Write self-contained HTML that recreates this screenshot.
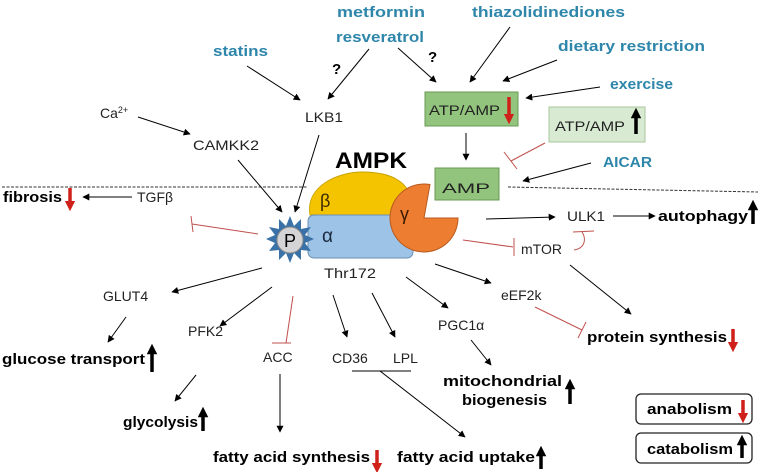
<!DOCTYPE html>
<html><head><meta charset="utf-8"><style>
html,body{margin:0;padding:0;background:#fff}
svg{display:block}
text{font-family:"Liberation Sans","DejaVu Sans",sans-serif}
.t{font-size:14px;fill:#222}
.b{font-size:15px;font-weight:bold;fill:#000}
.bl{font-size:14.5px;font-weight:bold;fill:#2e86ab}
</style></head><body>
<svg width="762" height="472" viewBox="0 0 762 472" xmlns="http://www.w3.org/2000/svg">
<defs>
<marker id="a" viewBox="0 0 10 10" refX="9" refY="5" markerWidth="7" markerHeight="7" orient="auto"><path d="M0,0L10,5L0,10z" fill="#000"/></marker>
<marker id="up" viewBox="0 0 10 10" refX="5" refY="5" markerWidth="3" markerHeight="3" orient="auto"><path d="M0,0L10,5L0,10z" fill="#000"/></marker>
<marker id="upr" viewBox="0 0 10 10" refX="5" refY="5" markerWidth="3" markerHeight="3" orient="auto"><path d="M0,0L10,5L0,10z" fill="#d0201a"/></marker>
</defs>
<line x1="2" y1="187" x2="308" y2="187" stroke="#333" stroke-dasharray="3,1.5"/>
<line x1="508" y1="187" x2="758" y2="192" stroke="#333" stroke-dasharray="3,1.5"/>

<text class="bl" x="213" y="56" textLength="55" lengthAdjust="spacingAndGlyphs">statins</text>
<text class="bl" x="337" y="17" textLength="88" lengthAdjust="spacingAndGlyphs">metformin</text>
<text class="bl" x="336" y="42" textLength="88" lengthAdjust="spacingAndGlyphs">resveratrol</text>
<text class="b" x="332" y="74" font-size="17">?</text>
<text class="b" x="428" y="62" font-size="17">?</text>
<text class="bl" x="472" y="17" textLength="153" lengthAdjust="spacingAndGlyphs">thiazolidinediones</text>
<text class="bl" x="558" y="51" textLength="147" lengthAdjust="spacingAndGlyphs">dietary restriction</text>
<text class="bl" x="610" y="89" textLength="63" lengthAdjust="spacingAndGlyphs">exercise</text>
<text class="bl" x="603" y="167" textLength="49" lengthAdjust="spacingAndGlyphs">AICAR</text>

<rect x="425" y="92" width="93" height="34" fill="#93c47d" stroke="#6a9a55"/>
<text class="t" x="429" y="115" textLength="71" lengthAdjust="spacingAndGlyphs">ATP/AMP</text>
<line x1="509" y1="97" x2="509" y2="119" stroke="#d0201a" stroke-width="3.5" marker-end="url(#upr)"/>
<rect x="549" y="107" width="96" height="35" fill="#d9ead3" stroke="#a8c79d"/>
<text class="t" x="555" y="131" textLength="70" lengthAdjust="spacingAndGlyphs">ATP/AMP</text>
<line x1="636" y1="134" x2="636" y2="113" stroke="#000" stroke-width="3.5" marker-end="url(#up)"/>
<rect x="435" y="168" width="64" height="32" fill="#93c47d" stroke="#6a9a55"/>
<text class="t" x="442" y="193" font-size="21" textLength="48" lengthAdjust="spacingAndGlyphs">AMP</text>

<line x1="247" y1="66" x2="300" y2="100" stroke="#000" marker-end="url(#a)"/>
<line x1="369" y1="49" x2="328" y2="99" stroke="#000" marker-end="url(#a)"/>
<line x1="398" y1="48" x2="436" y2="82" stroke="#000" marker-end="url(#a)"/>
<line x1="510" y1="27" x2="470" y2="82" stroke="#000" marker-end="url(#a)"/>
<line x1="557" y1="60" x2="503" y2="81" stroke="#000" marker-end="url(#a)"/>
<line x1="600" y1="87" x2="526" y2="98" stroke="#000" marker-end="url(#a)"/>
<line x1="466" y1="133" x2="466" y2="160" stroke="#000" marker-end="url(#a)"/>
<line x1="591" y1="163" x2="523" y2="181" stroke="#000" marker-end="url(#a)"/>
<line x1="545" y1="143" x2="511" y2="161" stroke="#c0504d"/>
<line x1="504" y1="152" x2="517" y2="169" stroke="#c0504d"/>

<text class="t" x="100" y="118">Ca<tspan font-size="9" dy="-5">2+</tspan></text>
<line x1="138" y1="117" x2="190" y2="134" stroke="#000" marker-end="url(#a)"/>
<text class="t" x="193" y="150" textLength="66" lengthAdjust="spacingAndGlyphs">CAMKK2</text>
<text class="t" x="305" y="122" textLength="38" lengthAdjust="spacingAndGlyphs">LKB1</text>
<line x1="238" y1="160" x2="282" y2="212" stroke="#000" marker-end="url(#a)"/>
<line x1="319" y1="135" x2="295" y2="212" stroke="#000" marker-end="url(#a)"/>

<text x="335" y="168" font-size="22" font-weight="bold" fill="#000" textLength="72" lengthAdjust="spacingAndGlyphs">AMPK</text>
<path d="M310,215 C305,185 340,172 362,172 C395,172 410,185 410,200 L410,215z" fill="#f5c400" stroke="#c9a300"/>
<text x="320" y="207" font-size="18" fill="#3a2a00">β</text>
<rect x="308" y="215" width="105" height="43" rx="6" fill="#9dc3e6" stroke="#6a8fb3"/>
<text x="322" y="242" font-size="19" fill="#1a2a40">α</text>
<path d="M424,218 L458,218 A34,34 0 1 1 430,184.5 Z" fill="#ed7d31" stroke="#b85a1e"/>
<text x="400" y="220" font-size="18" fill="#3a1a00">γ</text>

<polygon fill="#3a72a8" points="290,216 294,226 301,219 301,229 311,227 305,235 314,239 305,243 311,251 301,250 301,260 294,253 290,263 286,253 279,260 279,250 269,251 275,243 266,239 275,235 269,227 279,229 279,219 286,226"/>
<circle cx="290" cy="240" r="13" fill="#d4d4d6" stroke="#888"/>
<text x="284" y="247" font-size="18" fill="#000">P</text>
<text class="t" x="324" y="278" textLength="52" lengthAdjust="spacingAndGlyphs">Thr172</text>

<text class="b" x="3" y="202" textLength="59" lengthAdjust="spacingAndGlyphs">fibrosis</text>
<line x1="70" y1="188" x2="70" y2="206" stroke="#d0201a" stroke-width="3.5" marker-end="url(#upr)"/>
<line x1="132" y1="197" x2="83" y2="197" stroke="#000" marker-end="url(#a)"/>
<text class="t" x="137" y="202">TGFβ</text>
<line x1="258" y1="234" x2="192" y2="224" stroke="#c0504d"/>
<line x1="191" y1="216" x2="193" y2="232" stroke="#c0504d"/>

<line x1="262" y1="268" x2="172" y2="292" stroke="#000" marker-end="url(#a)"/>
<text class="t" x="103" y="301">GLUT4</text>
<line x1="126" y1="317" x2="108" y2="342" stroke="#000" marker-end="url(#a)"/>
<text class="b" x="2" y="364" textLength="143" lengthAdjust="spacingAndGlyphs">glucose transport</text>
<line x1="152" y1="372" x2="152" y2="349" stroke="#000" stroke-width="3.5" marker-end="url(#up)"/>

<line x1="272" y1="287" x2="220" y2="326" stroke="#000" marker-end="url(#a)"/>
<text class="t" x="188" y="336">PFK2</text>
<line x1="196" y1="375" x2="175" y2="401" stroke="#000" marker-end="url(#a)"/>
<text class="b" x="123" y="427" textLength="75" lengthAdjust="spacingAndGlyphs">glycolysis</text>
<line x1="203" y1="431" x2="203" y2="412" stroke="#000" stroke-width="3.5" marker-end="url(#up)"/>

<line x1="293" y1="296" x2="286" y2="343" stroke="#c0504d"/>
<line x1="272" y1="343" x2="291" y2="343" stroke="#c0504d"/>
<text class="t" x="263" y="362">ACC</text>
<line x1="280" y1="374" x2="280" y2="432" stroke="#000" marker-end="url(#a)"/>
<text class="b" x="213" y="462" textLength="157" lengthAdjust="spacingAndGlyphs">fatty acid synthesis</text>
<line x1="377" y1="450" x2="377" y2="468" stroke="#d0201a" stroke-width="3.5" marker-end="url(#upr)"/>

<line x1="333" y1="295" x2="347" y2="337" stroke="#000" marker-end="url(#a)"/>
<text class="t" x="332" y="363">CD36</text>
<line x1="372" y1="293" x2="395" y2="337" stroke="#000" marker-end="url(#a)"/>
<text class="t" x="393" y="363">LPL</text>
<line x1="352" y1="371" x2="411" y2="371" stroke="#000"/>
<line x1="380" y1="371" x2="465" y2="437" stroke="#000" marker-end="url(#a)"/>
<text class="b" x="397" y="462" textLength="138" lengthAdjust="spacingAndGlyphs">fatty acid uptake</text>
<line x1="541" y1="469" x2="541" y2="451" stroke="#000" stroke-width="3.5" marker-end="url(#up)"/>

<line x1="406" y1="277" x2="448" y2="308" stroke="#000" marker-end="url(#a)"/>
<text class="t" x="438" y="330">PGC1α</text>
<line x1="471" y1="340" x2="491" y2="365" stroke="#000" marker-end="url(#a)"/>
<text class="b" x="443" y="386" textLength="119" lengthAdjust="spacingAndGlyphs">mitochondrial</text>
<text class="b" x="462" y="405" textLength="85" lengthAdjust="spacingAndGlyphs">biogenesis</text>
<line x1="570" y1="404" x2="570" y2="384" stroke="#000" stroke-width="3.5" marker-end="url(#up)"/>

<line x1="435" y1="264" x2="491" y2="283" stroke="#000" marker-end="url(#a)"/>
<text class="t" x="501" y="300">eEF2k</text>
<line x1="535" y1="307" x2="582" y2="330" stroke="#c0504d"/>
<line x1="578" y1="338" x2="586" y2="322" stroke="#c0504d"/>
<text class="b" x="587" y="342" textLength="140" lengthAdjust="spacingAndGlyphs">protein synthesis</text>
<line x1="733" y1="329" x2="733" y2="347" stroke="#d0201a" stroke-width="3.5" marker-end="url(#upr)"/>

<line x1="463" y1="240" x2="513" y2="247" stroke="#c0504d"/>
<line x1="514" y1="238" x2="514" y2="256" stroke="#c0504d"/>
<text class="t" x="521" y="254">mTOR</text>
<path d="M574,250 C586,248 586,238 582,232" fill="none" stroke="#c0504d"/>
<line x1="573" y1="232" x2="594" y2="231" stroke="#c0504d"/>
<line x1="570" y1="265" x2="631" y2="314" stroke="#000" marker-end="url(#a)"/>

<line x1="486" y1="219" x2="555" y2="217" stroke="#000" marker-end="url(#a)"/>
<text class="t" x="567" y="221" textLength="38" lengthAdjust="spacingAndGlyphs">ULK1</text>
<line x1="613" y1="216" x2="655" y2="216" stroke="#000" marker-end="url(#a)"/>
<text class="b" x="658" y="221" textLength="90" lengthAdjust="spacingAndGlyphs">autophagy</text>
<line x1="753" y1="224" x2="753" y2="205" stroke="#000" stroke-width="3.5" marker-end="url(#up)"/>

<rect x="636" y="394" width="116" height="30" rx="5" fill="#fff" stroke="#222" stroke-width="1.3"/>
<text class="b" x="647" y="414" textLength="85" lengthAdjust="spacingAndGlyphs">anabolism</text>
<line x1="743" y1="400" x2="743" y2="418" stroke="#d0201a" stroke-width="3.5" marker-end="url(#upr)"/>
<rect x="636" y="433" width="116" height="30" rx="5" fill="#fff" stroke="#222" stroke-width="1.3"/>
<text class="b" x="647" y="454" textLength="86" lengthAdjust="spacingAndGlyphs">catabolism</text>
<line x1="742" y1="458" x2="742" y2="440" stroke="#000" stroke-width="3.5" marker-end="url(#up)"/>
</svg>
</body></html>
